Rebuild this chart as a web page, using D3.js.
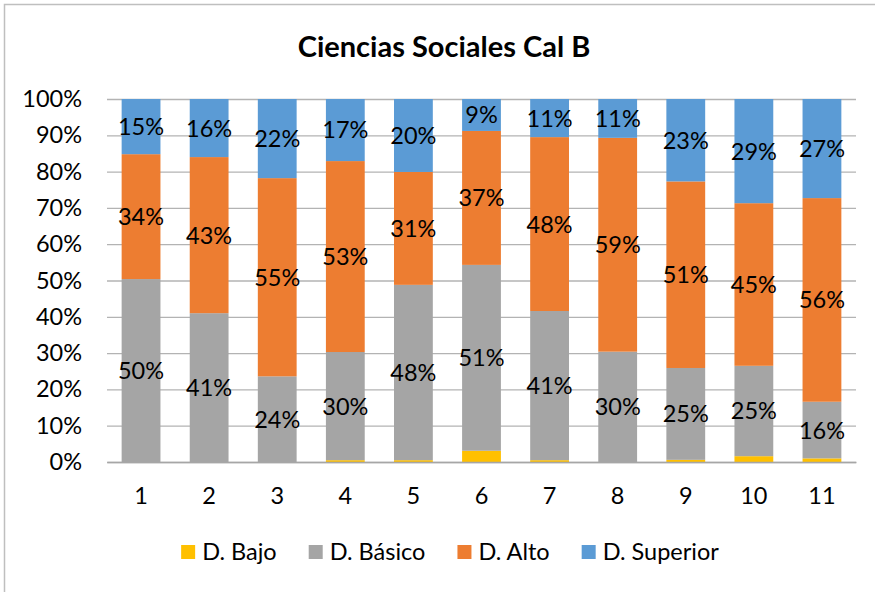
<!DOCTYPE html>
<html>
<head>
<meta charset="utf-8">
<script src="https://cdn.jsdelivr.net/npm/d3@7"></script>
<style>
  body { margin: 0; background: #fff; }
  text { font-family: Lato, "Open Sans", sans-serif; fill: #000; }
</style>
</head>
<body>
<div id="wrapper"></div>
<script>
// data (percent of students per level)
const categories = ["1", "2", "3", "4", "5", "6", "7", "8", "9", "10", "11"]
const seriesNames = ["D. Bajo", "D. Básico", "D. Alto", "D. Superior"]
const bajo     = [0, 0, 0, 0.5, 0.5, 3.1, 0.5, 0, 0.6, 1.6, 1.0]
const basico   = [50.4, 41.0, 23.6, 29.8, 48.3, 51.2, 41.1, 30.4, 25.3, 24.9, 15.6]
const alto     = [34.4, 43.0, 54.6, 52.6, 31.1, 36.9, 47.9, 58.9, 51.4, 44.8, 56.1]
const superior = [15.2, 16.0, 21.8, 17.1, 20.1, 8.8, 10.5, 10.7, 22.7, 28.7, 27.3]
const yTicks = [0, 10, 20, 30, 40, 50, 60, 70, 80, 90, 100]

const colors = ["#FFC000", "#A5A5A5", "#ED7D31", "#5B9BD5"]
const labelled = [false, true, true, true]
const fontSize = "23.5px"

const table = categories.map((c, i) => ({
    cat: c,
    "D. Bajo": bajo[i],
    "D. Básico": basico[i],
    "D. Alto": alto[i],
    "D. Superior": superior[i],
}))

let dimensions = {
    width: 875,
    height: 592,
    margin: { top: 99, right: 19, bottom: 130, left: 107 },
}
dimensions.boundedWidth = dimensions.width - dimensions.margin.left - dimensions.margin.right
dimensions.boundedHeight = dimensions.height - dimensions.margin.top - dimensions.margin.bottom

const wrapper = d3.select("#wrapper")
    .append("svg")
    .attr("width", dimensions.width)
    .attr("height", dimensions.height)

// chart frame
wrapper.append("rect")
    .attr("x", 4.5).attr("y", 4.5)
    .attr("width", 900).attr("height", 700)
    .attr("fill", "none")
    .attr("stroke", "#bfbfbf")
    .attr("stroke-width", 1.5)

wrapper.append("text")
    .attr("x", 444)
    .attr("y", 57)
    .attr("text-anchor", "middle")
    .attr("font-size", "29px")
    .attr("font-weight", "bold")
    .text("Ciencias Sociales Cal B")

const bounds = wrapper.append("g")
    .attr("transform", `translate(${dimensions.margin.left},${dimensions.margin.top})`)

const xScaler = d3.scaleBand()
    .domain(categories)
    .range([0, dimensions.boundedWidth])
    .paddingInner(0.43)
    .paddingOuter(0.215)

const yScaler = d3.scaleLinear()
    .domain([0, 100])
    .range([dimensions.boundedHeight, 0])

// gridlines + y labels
const yAxisGen = d3.axisLeft(yScaler)
    .tickValues(yTicks)
    .tickFormat(d => d + "%")
    .tickSize(-dimensions.boundedWidth)
    .tickSizeOuter(0)
    .tickPadding(25)
const yAxis = bounds.append("g").call(yAxisGen)
yAxis.select(".domain").remove()
yAxis.selectAll(".tick line").attr("stroke", "#b3b3b3").attr("stroke-width", 1.3)
yAxis.selectAll(".tick text")
    .attr("font-size", fontSize)
    .attr("font-family", "Lato, sans-serif")
    .attr("fill", "#000")

const stacked = d3.stack().keys(seriesNames)(table)

const layers = bounds.append("g")
    .selectAll("g")
    .data(stacked)
    .join("g")
    .attr("fill", (d, i) => colors[i])

layers.selectAll("rect")
    .data(d => d)
    .join("rect")
    .attr("x", d => xScaler(d.data.cat))
    .attr("y", d => yScaler(d[1]))
    .attr("width", xScaler.bandwidth())
    .attr("height", d => yScaler(d[0]) - yScaler(d[1]))

// value labels
const labelGroup = bounds.append("g")
stacked.forEach((layer, i) => {
    if (!labelled[i]) return
    labelGroup.selectAll(null)
        .data(layer)
        .join("text")
        .attr("x", d => xScaler(d.data.cat) + xScaler.bandwidth() / 2)
        .attr("y", d => yScaler((d[0] + d[1]) / 2))
        .attr("dy", "0.36em")
        .attr("text-anchor", "middle")
        .attr("font-size", fontSize)
        .text(d => Math.round(d[1] - d[0]) + "%")
})

// x axis
const xAxisGen = d3.axisBottom(xScaler).tickSize(0).tickSizeOuter(0)
const xAxis = bounds.append("g")
    .attr("transform", `translate(0,${dimensions.boundedHeight})`)
    .call(xAxisGen)
xAxis.select(".domain").attr("stroke", "#a6a6a6").attr("stroke-width", 1.5)
xAxis.selectAll(".tick text")
    .attr("y", 42)
    .attr("dy", null)
    .attr("font-size", fontSize)
    .attr("font-family", "Lato, sans-serif")
    .attr("fill", "#000")

// legend
const legend = wrapper.append("g")
const items = legend.selectAll("g")
    .data(seriesNames)
    .join("g")
items.append("rect")
    .attr("y", -7)
    .attr("width", 14)
    .attr("height", 14)
    .attr("fill", (d, i) => colors[i])
items.append("text")
    .attr("x", 21)
    .attr("dy", "0.36em")
    .attr("font-size", fontSize)
    .text(d => d)

let cursor = 0
items.each(function () {
    const g = d3.select(this)
    g.attr("transform", `translate(${cursor},0)`)
    cursor += 21 + g.select("text").node().getComputedTextLength() + 32
})
const legendWidth = cursor - 32
legend.attr("transform", `translate(${450 - legendWidth / 2},552)`)
</script>
</body>
</html>
